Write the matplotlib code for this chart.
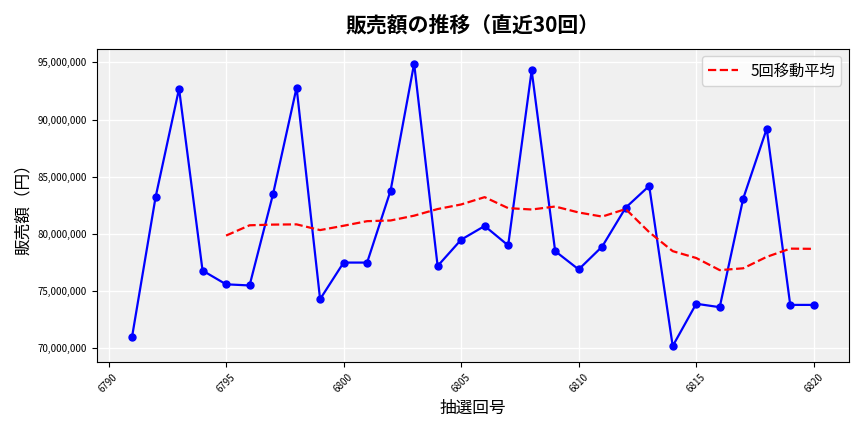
import matplotlib
matplotlib.use("Agg")
import matplotlib.pyplot as plt
import pandas as pd
from matplotlib.ticker import FuncFormatter

plt.rcParams['font.family'] = ['Noto Sans CJK JP', 'DejaVu Sans']

draws = list(range(6791, 6821))
sales = [71.0, 83.2, 92.7, 76.8, 75.6, 75.5, 83.5, 92.8, 74.3, 77.5,
         77.5, 83.8, 94.9, 77.2, 79.5, 80.7, 79.0, 94.3, 78.5, 76.9,
         78.9, 82.3, 84.2, 70.2, 73.9, 73.6, 83.1, 89.2, 73.8, 73.8]
sales = [v * 1e6 for v in sales]
ma = pd.Series(sales).rolling(5).mean()

fig, ax = plt.subplots(figsize=(8.64, 4.32), dpi=100)
ax.set_facecolor('#f0f0f0')
ax.grid(True, color='white', linewidth=1)
ax.set_axisbelow(True)
ax.plot(draws, sales, color='blue', marker='o', markersize=5, linewidth=1.6)
ax.plot(draws, ma, color='red', linestyle='--', linewidth=1.6, label='5回移動平均')
ax.set_title('販売額の推移（直近30回）', fontsize=15, fontweight='bold', pad=12)
ax.set_xlabel('抽選回号', fontsize=12)
ax.set_ylabel('販売額（円）', fontsize=12)
ax.yaxis.set_major_formatter(FuncFormatter(lambda v, p: f'{int(v):,}'))
ax.tick_params(axis='both', labelsize=7)
plt.setp(ax.get_xticklabels(), rotation=45)
ax.set_xlim(6789.5, 6821.5)
ax.set_ylim(68.8e6, 96.2e6)
ax.legend(loc='upper right', fontsize=11)
fig.tight_layout()
fig.savefig('out.png')
